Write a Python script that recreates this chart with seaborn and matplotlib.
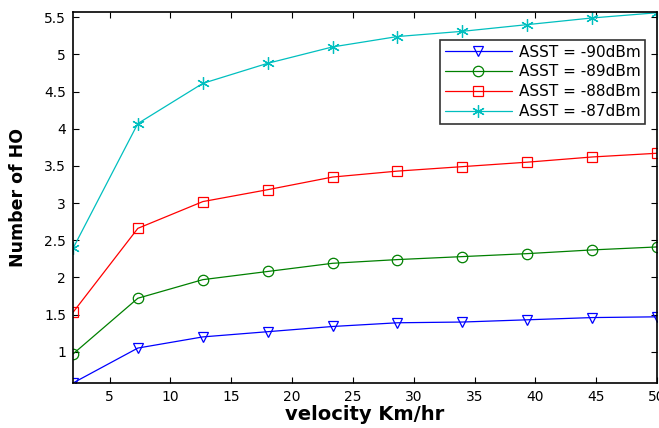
import numpy as np
import pandas as pd
import seaborn as sns
from matplotlib import pyplot as plt

velocity = [2, 7.33, 12.67, 18, 23.33, 28.67, 34, 39.33, 44.67, 50]
ho_90 = [0.58, 1.05, 1.20, 1.27, 1.34, 1.39, 1.40, 1.43, 1.46, 1.47]
ho_89 = [0.97, 1.72, 1.97, 2.08, 2.19, 2.24, 2.28, 2.32, 2.37, 2.41]
ho_88 = [1.53, 2.66, 3.02, 3.18, 3.35, 3.43, 3.49, 3.55, 3.62, 3.67]
ho_87 = [2.39, 4.07, 4.61, 4.88, 5.10, 5.24, 5.31, 5.40, 5.49, 5.56]
labels = ["ASST = -90dBm", "ASST = -89dBm", "ASST = -88dBm", "ASST = -87dBm"]

series = [ho_90, ho_89, ho_88, ho_87]
colors = ["#0000ff", "#008000", "#ff0000", "#00bfbf"]
markers = ["v", "o", "s", (6, 2, 0)]

sns.set_style("ticks")
plt.rcParams["font.family"] = ["DejaVu Sans"]
plt.rcParams["text.color"] = "black"
plt.rcParams["axes.labelcolor"] = "black"
plt.rcParams["xtick.color"] = "black"
plt.rcParams["ytick.color"] = "black"

fig = plt.figure(figsize=(6.59, 4.28), dpi=100)
ax = fig.add_axes([73 / 659, 1 - 383 / 428, 584 / 659, 371 / 428])

for vals, lab, col, mk in zip(series, labels, colors, markers):
    df = pd.DataFrame({"velocity": velocity, "ho": vals})
    sns.lineplot(
        data=df,
        x="velocity",
        y="ho",
        ax=ax,
        color=col,
        marker=mk,
        markersize=7.5 if mk != (6, 2, 0) else 9,
        markerfacecolor="none",
        markeredgecolor=col,
        markeredgewidth=0.9,
        linewidth=0.9,
        label=lab,
    )

ax.set_xlim(2, 50)
ax.set_ylim(0.58, 5.57)
ax.set_xticks(np.arange(5, 51, 5))
ax.set_yticks(np.arange(1, 5.51, 0.5))
ax.set_yticklabels(["1", "1.5", "2", "2.5", "3", "3.5", "4", "4.5", "5", "5.5"])
ax.tick_params(direction="in", top=True, right=True, length=4, width=0.8, labelsize=10, pad=5)
for sp in ax.spines.values():
    sp.set_linewidth(1.2)
    sp.set_color("black")

ax.set_xlabel("velocity Km/hr", fontsize=14, fontweight="bold", labelpad=1)
ax.set_ylabel("Number of HO", fontsize=12.5, fontweight="bold", labelpad=12)

leg = ax.legend(
    loc="upper right",
    bbox_to_anchor=(645 / 659, 1 - 40 / 428),
    bbox_transform=fig.transFigure,
    fontsize=11,
    frameon=True,
    fancybox=False,
    edgecolor="black",
    borderpad=0.3,
    labelspacing=0.32,
    handlelength=4.4,
    handletextpad=0.45,
    borderaxespad=0,
)
leg.get_frame().set_linewidth(1.2)

fig.savefig("out.png", dpi=100)
